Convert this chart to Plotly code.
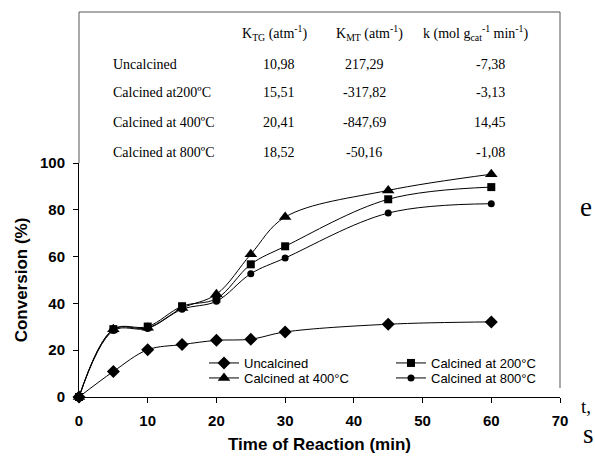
import plotly.graph_objects as go

# ---------------- data ----------------
time_min = [0, 5, 10, 15, 20, 25, 30, 45, 60]
uncalcined = [0, 10.9, 20.2, 22.4, 24.2, 24.7, 27.8, 31.1, 32.1]
calc200 = [0, 29.0, 30.1, 38.8, 42.0, 56.7, 64.4, 84.5, 89.7]
calc400 = [0, 28.9, 29.6, 38.0, 43.9, 61.0, 76.9, 88.3, 95.2]
calc800 = [0, 28.4, 29.3, 37.5, 40.9, 52.7, 59.4, 78.6, 82.6]

series_names = ["Uncalcined", "Calcined at 200°C", "Calcined at 400°C", "Calcined at 800°C"]

table_rows = ["Uncalcined", "Calcined at200ºC", "Calcined at 400ºC", "Calcined at 800ºC"]
k_tg = ["10,98", "15,51", "20,41", "18,52"]
k_mt = ["217,29", "-317,82", "-847,69", "-50,16"]
k_rate = ["-7,38", "-3,13", "14,45", "-1,08"]
table_headers = ["K<sub>TG</sub> (atm<sup>-1</sup>)",
                 "K<sub>MT</sub> (atm<sup>-1</sup>)",
                 "k (mol g<sub>cat</sub><sup>-1</sup> min<sup>-1</sup>)"]

x_ticks = [0, 10, 20, 30, 40, 50, 60, 70]
y_ticks = [0, 20, 40, 60, 80, 100]

# ---------------- layout geometry (pixels) ----------------
W, H = 595, 463
L, T = 79, 163
RIGHT, BOTTOM = 560, 397
R, B = W - RIGHT, H - BOTTOM
PW = RIGHT - L
PH = BOTTOM - T


def px(xp):
    return (xp - L) / PW


def py(yp):
    return (BOTTOM - yp) / PH


fig = go.Figure()
styles = [
    dict(symbol="diamond", size=10, legend="legend"),
    dict(symbol="square", size=8, legend="legend2"),
    dict(symbol="triangle-up", size=11, legend="legend3"),
    dict(symbol="circle", size=7, legend="legend4"),
]
for name, ys, st in zip(series_names, [uncalcined, calc200, calc400, calc800], styles):
    fig.add_trace(go.Scatter(
        x=time_min, y=ys, name=name, mode="lines+markers",
        line=dict(color="black", width=1, shape="spline", smoothing=1.0),
        marker=dict(symbol=st["symbol"], size=st["size"], color="black"),
        legend=st["legend"], cliponaxis=False, showlegend=True,
    ))

serif = "Liberation Serif, Times New Roman, serif"
sans = "Liberation Sans, Arial, sans-serif"

ann = []
head_x = [275, 369, 476]
for hx, htxt in zip(head_x, table_headers):
    ann.append(dict(x=px(hx), y=py(33), xref="paper", yref="paper", text=htxt,
                    showarrow=False, xanchor="center", yanchor="middle",
                    font=dict(family=serif, size=14, color="black")))
row_y = [65, 93, 122, 152]
col_x = [279, 364, 490]
for ry, lab, a, b, c in zip(row_y, table_rows, k_tg, k_mt, k_rate):
    ann.append(dict(x=px(111), y=py(ry), xref="paper", yref="paper", text=lab,
                    showarrow=False, xanchor="left", yanchor="middle",
                    font=dict(family=serif, size=14, color="black")))
    for cx, v in zip(col_x, [a, b, c]):
        ann.append(dict(x=px(cx), y=py(ry), xref="paper", yref="paper", text=v,
                        showarrow=False, xanchor="center", yanchor="middle",
                        font=dict(family=serif, size=14, color="black")))

# stray page text at the right edge
for t, xx, yy, fs in [("e", 586, 207, 27), ("t,", 586, 406, 19), ("s", 588, 434, 27)]:
    ann.append(dict(x=px(xx), y=py(yy), xref="paper", yref="paper", text=t,
                    showarrow=False, xanchor="center", yanchor="middle",
                    font=dict(family=serif, size=fs, color="black")))

box_path = (f"M {px(79)},{py(163)} L {px(79)},{py(12)} "
            f"L {px(560)},{py(12)} L {px(560)},{py(388)}")

leg_common = dict(xanchor="left", yanchor="middle", bgcolor="rgba(0,0,0,0)",
                  font=dict(family=sans, size=13, color="black"))

fig.update_layout(
    width=W, height=H, showlegend=True,
    margin=dict(l=L, r=R, t=T, b=B, autoexpand=False),
    paper_bgcolor="white", plot_bgcolor="white",
    font=dict(family=sans, color="black"),
    xaxis=dict(range=[0, 70], tickvals=x_ticks,
               showgrid=False, zeroline=False, showline=True, linecolor="black",
               linewidth=1, ticks="outside", ticklen=5, tickcolor="black",
               ticklabelstandoff=5,
               tickfont=dict(family=sans, size=15, weight="bold"),
               title=dict(text="Time of Reaction (min)", standoff=10,
                          font=dict(family=sans, size=17, weight="bold"))),
    yaxis=dict(range=[0, 100], tickvals=y_ticks,
               showgrid=False, zeroline=False, showline=True, linecolor="black",
               linewidth=1, ticks="outside", ticklen=5, tickcolor="black",
               ticklabelstandoff=5,
               tickfont=dict(family=sans, size=15, weight="bold"),
               title=dict(text="Conversion (%)", standoff=8,
                          font=dict(family=sans, size=17, weight="bold"))),
    legend=dict(x=px(204), y=py(363), **leg_common),
    legend2=dict(x=px(391), y=py(363), **leg_common),
    legend3=dict(x=px(204), y=py(378), **leg_common),
    legend4=dict(x=px(391), y=py(378), **leg_common),
    annotations=ann,
    shapes=[dict(type="path", path=box_path, xref="paper", yref="paper",
                 line=dict(color="#555", width=1))],
)

fig.write_html(
    "out.html",
    config={"displayModeBar": False},
    post_script="document.body.style.margin='0';document.body.style.overflow='hidden';",
)
